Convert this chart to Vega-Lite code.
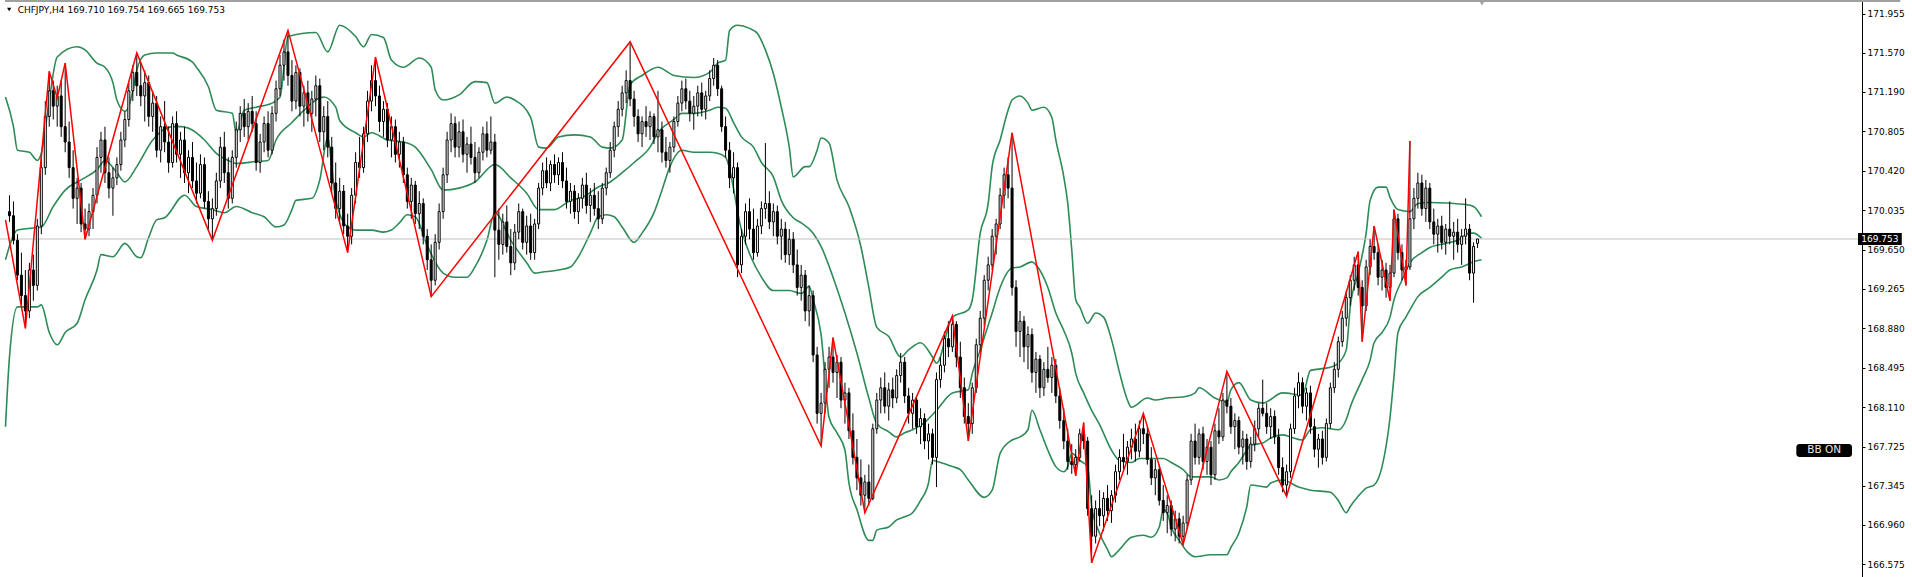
{
"$schema":"https://vega.github.io/schema/vega-lite/v6.json",
"width":1862,"height":577,
"autosize":{"type":"none"},
"padding":{"left":0,"top":0,"right":50,"bottom":0},
"background":"white",
"config":{"view":{"stroke":null},"font":"DejaVu Sans","axis":{"grid":false}},
"datasets":{
"one":[{"k":1}],
"bars":[
{"i":1,"o":170.02,"h":170.18,"l":169.92,"c":169.98},
{"i":2,"o":169.98,"h":170.12,"l":169.70,"c":169.74},
{"i":3,"o":169.74,"h":169.80,"l":169.35,"c":169.40},
{"i":4,"o":169.40,"h":169.62,"l":169.10,"c":169.20},
{"i":5,"o":169.20,"h":169.45,"l":168.88,"c":169.05},
{"i":6,"o":169.05,"h":169.52,"l":168.98,"c":169.45},
{"i":7,"o":169.45,"h":169.60,"l":169.15,"c":169.30},
{"i":8,"o":169.30,"h":169.95,"l":169.25,"c":169.88},
{"i":9,"o":169.88,"h":170.55,"l":169.80,"c":170.45},
{"i":10,"o":170.45,"h":171.10,"l":170.38,"c":170.95},
{"i":11,"o":170.95,"h":171.39,"l":170.85,"c":171.20},
{"i":12,"o":171.20,"h":171.30,"l":170.92,"c":171.05},
{"i":13,"o":171.05,"h":171.25,"l":170.85,"c":171.15},
{"i":14,"o":171.15,"h":171.30,"l":170.75,"c":170.85},
{"i":15,"o":170.85,"h":171.47,"l":170.60,"c":170.70},
{"i":16,"o":170.70,"h":170.90,"l":170.35,"c":170.45},
{"i":17,"o":170.45,"h":170.62,"l":170.05,"c":170.15},
{"i":18,"o":170.15,"h":170.35,"l":169.90,"c":170.25},
{"i":19,"o":170.25,"h":170.30,"l":169.82,"c":169.90},
{"i":20,"o":169.90,"h":170.05,"l":169.75,"c":169.85},
{"i":21,"o":169.85,"h":170.10,"l":169.78,"c":170.02},
{"i":22,"o":170.02,"h":170.25,"l":169.85,"c":170.18},
{"i":23,"o":170.18,"h":170.65,"l":170.10,"c":170.55},
{"i":24,"o":170.55,"h":170.80,"l":170.40,"c":170.72},
{"i":25,"o":170.72,"h":170.85,"l":170.30,"c":170.40},
{"i":26,"o":170.40,"h":170.55,"l":170.15,"c":170.25},
{"i":27,"o":170.25,"h":170.45,"l":169.98,"c":170.35},
{"i":28,"o":170.35,"h":170.55,"l":170.28,"c":170.48},
{"i":29,"o":170.48,"h":170.80,"l":170.42,"c":170.72},
{"i":30,"o":170.72,"h":171.00,"l":170.65,"c":170.92},
{"i":31,"o":170.92,"h":171.28,"l":170.85,"c":171.20},
{"i":32,"o":171.20,"h":171.45,"l":171.10,"c":171.38},
{"i":33,"o":171.38,"h":171.57,"l":171.15,"c":171.25},
{"i":34,"o":171.25,"h":171.48,"l":171.05,"c":171.15},
{"i":35,"o":171.15,"h":171.40,"l":170.90,"c":171.28},
{"i":36,"o":171.28,"h":171.35,"l":170.85,"c":170.95},
{"i":37,"o":170.95,"h":171.20,"l":170.80,"c":171.08},
{"i":38,"o":171.08,"h":171.15,"l":170.55,"c":170.62},
{"i":39,"o":170.62,"h":170.95,"l":170.50,"c":170.85},
{"i":40,"o":170.85,"h":171.10,"l":170.60,"c":170.70},
{"i":41,"o":170.70,"h":170.85,"l":170.40,"c":170.50},
{"i":42,"o":170.50,"h":170.95,"l":170.45,"c":170.88},
{"i":43,"o":170.88,"h":171.00,"l":170.50,"c":170.58},
{"i":44,"o":170.58,"h":170.80,"l":170.35,"c":170.72},
{"i":45,"o":170.72,"h":170.85,"l":170.30,"c":170.40},
{"i":46,"o":170.40,"h":170.62,"l":170.20,"c":170.55},
{"i":47,"o":170.55,"h":170.70,"l":170.25,"c":170.32},
{"i":48,"o":170.32,"h":170.50,"l":170.10,"c":170.20},
{"i":49,"o":170.20,"h":170.58,"l":170.15,"c":170.48},
{"i":50,"o":170.48,"h":170.55,"l":170.05,"c":170.12},
{"i":51,"o":170.12,"h":170.22,"l":169.85,"c":169.95},
{"i":52,"o":169.95,"h":170.15,"l":169.74,"c":170.05},
{"i":53,"o":170.05,"h":170.40,"l":169.98,"c":170.32},
{"i":54,"o":170.32,"h":170.75,"l":170.25,"c":170.65},
{"i":55,"o":170.65,"h":170.80,"l":170.30,"c":170.40},
{"i":56,"o":170.40,"h":170.55,"l":170.05,"c":170.15},
{"i":57,"o":170.15,"h":170.62,"l":170.10,"c":170.55},
{"i":58,"o":170.55,"h":170.90,"l":170.45,"c":170.82},
{"i":59,"o":170.82,"h":171.05,"l":170.70,"c":170.98},
{"i":60,"o":170.98,"h":171.12,"l":170.75,"c":170.85},
{"i":61,"o":170.85,"h":171.08,"l":170.72,"c":171.00},
{"i":62,"o":171.00,"h":171.15,"l":170.80,"c":170.88},
{"i":63,"o":170.88,"h":171.00,"l":170.42,"c":170.50},
{"i":64,"o":170.50,"h":170.78,"l":170.40,"c":170.70},
{"i":65,"o":170.70,"h":170.95,"l":170.60,"c":170.88},
{"i":66,"o":170.88,"h":171.00,"l":170.55,"c":170.62},
{"i":67,"o":170.62,"h":171.05,"l":170.58,"c":170.98},
{"i":68,"o":170.98,"h":171.30,"l":170.90,"c":171.22},
{"i":69,"o":171.22,"h":171.55,"l":171.15,"c":171.45},
{"i":70,"o":171.45,"h":171.70,"l":171.30,"c":171.58},
{"i":71,"o":171.58,"h":171.79,"l":171.25,"c":171.35},
{"i":72,"o":171.35,"h":171.50,"l":171.00,"c":171.10},
{"i":73,"o":171.10,"h":171.45,"l":171.02,"c":171.38},
{"i":74,"o":171.38,"h":171.42,"l":170.95,"c":171.05},
{"i":75,"o":171.05,"h":171.25,"l":170.85,"c":171.18},
{"i":76,"o":171.18,"h":171.30,"l":170.90,"c":170.98},
{"i":77,"o":170.98,"h":171.20,"l":170.80,"c":171.12},
{"i":78,"o":171.12,"h":171.35,"l":170.95,"c":171.25},
{"i":79,"o":171.25,"h":171.32,"l":170.70,"c":170.80},
{"i":80,"o":170.80,"h":171.05,"l":170.62,"c":170.95},
{"i":81,"o":170.95,"h":171.10,"l":170.55,"c":170.65},
{"i":82,"o":170.65,"h":170.75,"l":170.20,"c":170.30},
{"i":83,"o":170.30,"h":170.50,"l":169.95,"c":170.05},
{"i":84,"o":170.05,"h":170.35,"l":169.90,"c":170.22},
{"i":85,"o":170.22,"h":170.28,"l":169.80,"c":169.88},
{"i":86,"o":169.88,"h":170.00,"l":169.62,"c":169.78},
{"i":87,"o":169.78,"h":170.25,"l":169.70,"c":170.18},
{"i":88,"o":170.18,"h":170.60,"l":170.10,"c":170.50},
{"i":89,"o":170.50,"h":170.75,"l":170.35,"c":170.45},
{"i":90,"o":170.45,"h":170.85,"l":170.40,"c":170.78},
{"i":91,"o":170.78,"h":171.20,"l":170.70,"c":171.10},
{"i":92,"o":171.10,"h":171.45,"l":171.00,"c":171.30},
{"i":93,"o":171.30,"h":171.53,"l":171.05,"c":171.15},
{"i":94,"o":171.15,"h":171.25,"l":170.80,"c":170.90},
{"i":95,"o":170.90,"h":171.10,"l":170.75,"c":171.02},
{"i":96,"o":171.02,"h":171.08,"l":170.65,"c":170.72},
{"i":97,"o":170.72,"h":170.95,"l":170.55,"c":170.85},
{"i":98,"o":170.85,"h":170.92,"l":170.50,"c":170.58},
{"i":99,"o":170.58,"h":170.80,"l":170.45,"c":170.70},
{"i":100,"o":170.70,"h":170.75,"l":170.30,"c":170.38},
{"i":101,"o":170.38,"h":170.45,"l":170.05,"c":170.12},
{"i":102,"o":170.12,"h":170.35,"l":169.95,"c":170.28},
{"i":103,"o":170.28,"h":170.32,"l":169.90,"c":170.00},
{"i":104,"o":170.00,"h":170.22,"l":169.85,"c":170.10},
{"i":105,"o":170.10,"h":170.15,"l":169.70,"c":169.78},
{"i":106,"o":169.78,"h":169.85,"l":169.45,"c":169.55},
{"i":107,"o":169.55,"h":169.70,"l":169.19,"c":169.35},
{"i":108,"o":169.35,"h":169.80,"l":169.30,"c":169.72},
{"i":109,"o":169.72,"h":170.10,"l":169.65,"c":170.02},
{"i":110,"o":170.02,"h":170.45,"l":169.95,"c":170.38},
{"i":111,"o":170.38,"h":170.80,"l":170.30,"c":170.72},
{"i":112,"o":170.72,"h":170.98,"l":170.60,"c":170.88},
{"i":113,"o":170.88,"h":170.95,"l":170.55,"c":170.65},
{"i":114,"o":170.65,"h":170.90,"l":170.55,"c":170.80},
{"i":115,"o":170.80,"h":170.92,"l":170.50,"c":170.58},
{"i":116,"o":170.58,"h":170.75,"l":170.40,"c":170.68},
{"i":117,"o":170.68,"h":170.85,"l":170.48,"c":170.55},
{"i":118,"o":170.55,"h":170.70,"l":170.30,"c":170.40},
{"i":119,"o":170.40,"h":170.65,"l":170.35,"c":170.60},
{"i":120,"o":170.60,"h":170.85,"l":170.52,"c":170.78},
{"i":121,"o":170.78,"h":170.90,"l":170.55,"c":170.62},
{"i":122,"o":170.62,"h":170.95,"l":170.58,"c":170.70},
{"i":123,"o":170.70,"h":170.78,"l":169.38,"c":169.84},
{"i":124,"o":169.84,"h":170.05,"l":169.55,"c":169.70},
{"i":125,"o":169.70,"h":170.00,"l":169.60,"c":169.92},
{"i":126,"o":169.92,"h":170.08,"l":169.62,"c":169.68},
{"i":127,"o":169.68,"h":169.85,"l":169.40,"c":169.52},
{"i":128,"o":169.52,"h":169.90,"l":169.45,"c":169.82},
{"i":129,"o":169.82,"h":170.10,"l":169.75,"c":170.02},
{"i":130,"o":170.02,"h":170.05,"l":169.65,"c":169.72},
{"i":131,"o":169.72,"h":169.98,"l":169.60,"c":169.88},
{"i":132,"o":169.88,"h":170.00,"l":169.55,"c":169.62},
{"i":133,"o":169.62,"h":169.95,"l":169.55,"c":169.90},
{"i":134,"o":169.90,"h":170.30,"l":169.85,"c":170.25},
{"i":135,"o":170.25,"h":170.50,"l":170.18,"c":170.42},
{"i":136,"o":170.42,"h":170.55,"l":170.25,"c":170.30},
{"i":137,"o":170.30,"h":170.52,"l":170.22,"c":170.48},
{"i":138,"o":170.48,"h":170.58,"l":170.30,"c":170.38},
{"i":139,"o":170.38,"h":170.55,"l":170.28,"c":170.50},
{"i":140,"o":170.50,"h":170.60,"l":170.25,"c":170.32},
{"i":141,"o":170.32,"h":170.45,"l":170.05,"c":170.12},
{"i":142,"o":170.12,"h":170.30,"l":170.00,"c":170.22},
{"i":143,"o":170.22,"h":170.28,"l":169.95,"c":170.02},
{"i":144,"o":170.02,"h":170.20,"l":169.90,"c":170.15},
{"i":145,"o":170.15,"h":170.35,"l":170.05,"c":170.28},
{"i":146,"o":170.28,"h":170.40,"l":170.00,"c":170.08},
{"i":147,"o":170.08,"h":170.25,"l":169.92,"c":170.18},
{"i":148,"o":170.18,"h":170.30,"l":169.98,"c":170.05},
{"i":149,"o":170.05,"h":170.22,"l":169.85,"c":169.95},
{"i":150,"o":169.95,"h":170.30,"l":169.90,"c":170.25},
{"i":151,"o":170.25,"h":170.45,"l":170.18,"c":170.40},
{"i":152,"o":170.40,"h":170.70,"l":170.35,"c":170.62},
{"i":153,"o":170.62,"h":170.90,"l":170.55,"c":170.85},
{"i":154,"o":170.85,"h":171.10,"l":170.75,"c":171.02},
{"i":155,"o":171.02,"h":171.25,"l":170.95,"c":171.18},
{"i":156,"o":171.18,"h":171.40,"l":171.08,"c":171.30},
{"i":157,"o":171.30,"h":171.68,"l":171.05,"c":171.12},
{"i":158,"o":171.12,"h":171.20,"l":170.85,"c":170.95},
{"i":159,"o":170.95,"h":171.02,"l":170.70,"c":170.78},
{"i":160,"o":170.78,"h":170.95,"l":170.65,"c":170.90},
{"i":161,"o":170.90,"h":171.05,"l":170.75,"c":170.85},
{"i":162,"o":170.85,"h":171.00,"l":170.72,"c":170.95},
{"i":163,"o":170.95,"h":170.98,"l":170.68,"c":170.75},
{"i":164,"o":170.75,"h":171.20,"l":170.60,"c":170.82},
{"i":165,"o":170.82,"h":170.90,"l":170.50,"c":170.60},
{"i":166,"o":170.60,"h":170.75,"l":170.45,"c":170.52},
{"i":167,"o":170.52,"h":170.70,"l":170.40,"c":170.65},
{"i":168,"o":170.65,"h":170.95,"l":170.60,"c":170.90},
{"i":169,"o":170.90,"h":171.15,"l":170.85,"c":171.08},
{"i":170,"o":171.08,"h":171.30,"l":171.00,"c":171.22},
{"i":171,"o":171.22,"h":171.32,"l":171.02,"c":171.10},
{"i":172,"o":171.10,"h":171.20,"l":170.90,"c":170.98},
{"i":173,"o":170.98,"h":171.15,"l":170.82,"c":171.05},
{"i":174,"o":171.05,"h":171.25,"l":170.95,"c":171.18},
{"i":175,"o":171.18,"h":171.28,"l":170.95,"c":171.02},
{"i":176,"o":171.02,"h":171.20,"l":170.92,"c":171.15},
{"i":177,"o":171.15,"h":171.40,"l":171.10,"c":171.32},
{"i":178,"o":171.32,"h":171.52,"l":171.25,"c":171.45},
{"i":179,"o":171.45,"h":171.50,"l":171.15,"c":171.22},
{"i":180,"o":171.22,"h":171.25,"l":170.80,"c":170.85},
{"i":181,"o":170.85,"h":170.95,"l":170.55,"c":170.62},
{"i":182,"o":170.62,"h":170.70,"l":170.25,"c":170.35},
{"i":183,"o":170.35,"h":170.60,"l":170.20,"c":170.45},
{"i":184,"o":170.45,"h":170.50,"l":169.38,"c":169.50},
{"i":185,"o":169.50,"h":169.85,"l":169.42,"c":169.78},
{"i":186,"o":169.78,"h":170.10,"l":169.70,"c":170.02},
{"i":187,"o":170.02,"h":170.15,"l":169.75,"c":169.85},
{"i":188,"o":169.85,"h":170.05,"l":169.55,"c":169.62},
{"i":189,"o":169.62,"h":169.95,"l":169.58,"c":169.88},
{"i":190,"o":169.88,"h":170.12,"l":169.80,"c":170.05},
{"i":191,"o":170.05,"h":170.69,"l":169.95,"c":170.10},
{"i":192,"o":170.10,"h":170.22,"l":169.85,"c":169.92},
{"i":193,"o":169.92,"h":170.10,"l":169.78,"c":170.02},
{"i":194,"o":170.02,"h":170.08,"l":169.70,"c":169.78},
{"i":195,"o":169.78,"h":169.95,"l":169.55,"c":169.85},
{"i":196,"o":169.85,"h":169.92,"l":169.52,"c":169.60},
{"i":197,"o":169.60,"h":169.85,"l":169.50,"c":169.75},
{"i":198,"o":169.75,"h":169.82,"l":169.42,"c":169.50},
{"i":199,"o":169.50,"h":169.65,"l":169.20,"c":169.28},
{"i":200,"o":169.28,"h":169.50,"l":169.15,"c":169.40},
{"i":201,"o":169.40,"h":169.45,"l":168.95,"c":169.05},
{"i":202,"o":169.05,"h":169.30,"l":168.90,"c":169.20},
{"i":203,"o":169.20,"h":169.25,"l":168.55,"c":168.62},
{"i":204,"o":168.62,"h":168.70,"l":167.95,"c":168.05},
{"i":205,"o":168.05,"h":168.25,"l":167.73,"c":168.15},
{"i":206,"o":168.15,"h":168.55,"l":168.05,"c":168.48},
{"i":207,"o":168.48,"h":168.70,"l":168.30,"c":168.60},
{"i":208,"o":168.60,"h":168.79,"l":168.35,"c":168.45},
{"i":209,"o":168.45,"h":168.62,"l":168.20,"c":168.55},
{"i":210,"o":168.55,"h":168.60,"l":168.10,"c":168.18},
{"i":211,"o":168.18,"h":168.35,"l":167.95,"c":168.25},
{"i":212,"o":168.25,"h":168.30,"l":167.80,"c":167.88},
{"i":213,"o":167.88,"h":168.05,"l":167.55,"c":167.62},
{"i":214,"o":167.62,"h":167.80,"l":167.30,"c":167.42},
{"i":215,"o":167.42,"h":167.60,"l":167.15,"c":167.25},
{"i":216,"o":167.25,"h":167.45,"l":167.08,"c":167.38},
{"i":217,"o":167.38,"h":167.55,"l":167.15,"c":167.22},
{"i":218,"o":167.22,"h":167.95,"l":167.20,"c":167.90},
{"i":219,"o":167.90,"h":168.25,"l":167.85,"c":168.18},
{"i":220,"o":168.18,"h":168.40,"l":168.05,"c":168.30},
{"i":221,"o":168.30,"h":168.45,"l":168.05,"c":168.12},
{"i":222,"o":168.12,"h":168.35,"l":167.98,"c":168.28},
{"i":223,"o":168.28,"h":168.40,"l":168.10,"c":168.20},
{"i":224,"o":168.20,"h":168.48,"l":168.15,"c":168.42},
{"i":225,"o":168.42,"h":168.64,"l":168.35,"c":168.55},
{"i":226,"o":168.55,"h":168.60,"l":168.15,"c":168.22},
{"i":227,"o":168.22,"h":168.30,"l":167.95,"c":168.05},
{"i":228,"o":168.05,"h":168.25,"l":167.90,"c":168.18},
{"i":229,"o":168.18,"h":168.22,"l":167.85,"c":167.92},
{"i":230,"o":167.92,"h":168.10,"l":167.75,"c":168.00},
{"i":231,"o":168.00,"h":168.05,"l":167.70,"c":167.78},
{"i":232,"o":167.78,"h":167.95,"l":167.60,"c":167.85},
{"i":233,"o":167.85,"h":167.90,"l":167.55,"c":167.62},
{"i":234,"o":167.62,"h":168.45,"l":167.33,"c":168.38},
{"i":235,"o":168.38,"h":168.60,"l":168.30,"c":168.52},
{"i":236,"o":168.52,"h":168.85,"l":168.45,"c":168.78},
{"i":237,"o":168.78,"h":168.95,"l":168.60,"c":168.70},
{"i":238,"o":168.70,"h":169.00,"l":168.65,"c":168.92},
{"i":239,"o":168.92,"h":168.95,"l":168.50,"c":168.60},
{"i":240,"o":168.60,"h":168.75,"l":168.20,"c":168.30},
{"i":241,"o":168.30,"h":168.40,"l":167.95,"c":168.02},
{"i":242,"o":168.02,"h":168.15,"l":167.78,"c":167.95},
{"i":243,"o":167.95,"h":168.35,"l":167.85,"c":168.30},
{"i":244,"o":168.30,"h":168.78,"l":168.25,"c":168.72},
{"i":245,"o":168.72,"h":169.05,"l":168.65,"c":168.98},
{"i":246,"o":168.98,"h":169.40,"l":168.90,"c":169.35},
{"i":247,"o":169.35,"h":169.58,"l":169.25,"c":169.50},
{"i":248,"o":169.50,"h":169.85,"l":169.45,"c":169.78},
{"i":249,"o":169.78,"h":169.95,"l":169.60,"c":169.90},
{"i":250,"o":169.90,"h":170.25,"l":169.85,"c":170.18},
{"i":251,"o":170.18,"h":170.45,"l":170.05,"c":170.38},
{"i":252,"o":170.38,"h":170.55,"l":170.15,"c":170.25},
{"i":253,"o":170.25,"h":170.79,"l":169.20,"c":169.28},
{"i":254,"o":169.28,"h":169.35,"l":168.70,"c":168.85},
{"i":255,"o":168.85,"h":169.05,"l":168.60,"c":168.95},
{"i":256,"o":168.95,"h":169.00,"l":168.55,"c":168.70},
{"i":257,"o":168.70,"h":168.90,"l":168.48,"c":168.82},
{"i":258,"o":168.82,"h":168.88,"l":168.35,"c":168.45},
{"i":259,"o":168.45,"h":168.65,"l":168.25,"c":168.58},
{"i":260,"o":168.58,"h":168.62,"l":168.20,"c":168.30},
{"i":261,"o":168.30,"h":168.55,"l":168.22,"c":168.48},
{"i":262,"o":168.48,"h":168.70,"l":168.35,"c":168.40},
{"i":263,"o":168.40,"h":168.60,"l":168.25,"c":168.52},
{"i":264,"o":168.52,"h":168.58,"l":168.15,"c":168.22},
{"i":265,"o":168.22,"h":168.30,"l":167.90,"c":167.98},
{"i":266,"o":167.98,"h":168.10,"l":167.70,"c":167.78},
{"i":267,"o":167.78,"h":167.90,"l":167.50,"c":167.58},
{"i":268,"o":167.58,"h":167.75,"l":167.46,"c":167.55},
{"i":269,"o":167.55,"h":167.70,"l":167.44,"c":167.62},
{"i":270,"o":167.62,"h":167.90,"l":167.58,"c":167.85},
{"i":271,"o":167.85,"h":167.96,"l":167.70,"c":167.78},
{"i":272,"o":167.78,"h":167.82,"l":167.05,"c":167.12},
{"i":273,"o":167.12,"h":167.25,"l":166.59,"c":166.85},
{"i":274,"o":166.85,"h":167.20,"l":166.78,"c":167.12},
{"i":275,"o":167.12,"h":167.30,"l":166.95,"c":167.05},
{"i":276,"o":167.05,"h":167.28,"l":166.90,"c":167.22},
{"i":277,"o":167.22,"h":167.35,"l":167.00,"c":167.10},
{"i":278,"o":167.10,"h":167.30,"l":166.98,"c":167.25},
{"i":279,"o":167.25,"h":167.55,"l":167.18,"c":167.48},
{"i":280,"o":167.48,"h":167.70,"l":167.40,"c":167.62},
{"i":281,"o":167.62,"h":167.85,"l":167.50,"c":167.58},
{"i":282,"o":167.58,"h":167.78,"l":167.45,"c":167.72},
{"i":283,"o":167.72,"h":167.90,"l":167.60,"c":167.80},
{"i":284,"o":167.80,"h":167.95,"l":167.58,"c":167.68},
{"i":285,"o":167.68,"h":167.98,"l":167.62,"c":167.90},
{"i":286,"o":167.90,"h":168.05,"l":167.75,"c":167.85},
{"i":287,"o":167.85,"h":167.92,"l":167.55,"c":167.60},
{"i":288,"o":167.60,"h":167.72,"l":167.35,"c":167.42},
{"i":289,"o":167.42,"h":167.60,"l":167.25,"c":167.50},
{"i":290,"o":167.50,"h":167.55,"l":167.15,"c":167.20},
{"i":291,"o":167.20,"h":167.35,"l":167.00,"c":167.08},
{"i":292,"o":167.08,"h":167.25,"l":166.88,"c":167.15},
{"i":293,"o":167.15,"h":167.20,"l":166.85,"c":166.92},
{"i":294,"o":166.92,"h":167.10,"l":166.80,"c":167.02},
{"i":295,"o":167.02,"h":167.08,"l":166.78,"c":166.85},
{"i":296,"o":166.85,"h":167.05,"l":166.77,"c":166.98},
{"i":297,"o":166.98,"h":167.45,"l":166.92,"c":167.40},
{"i":298,"o":167.40,"h":167.85,"l":167.35,"c":167.78},
{"i":299,"o":167.78,"h":167.95,"l":167.55,"c":167.62},
{"i":300,"o":167.62,"h":167.90,"l":167.55,"c":167.85},
{"i":301,"o":167.85,"h":167.92,"l":167.50,"c":167.58},
{"i":302,"o":167.58,"h":167.80,"l":167.45,"c":167.72},
{"i":303,"o":167.72,"h":167.78,"l":167.35,"c":167.45},
{"i":304,"o":167.45,"h":167.95,"l":167.40,"c":167.88},
{"i":305,"o":167.88,"h":168.10,"l":167.75,"c":167.82},
{"i":306,"o":167.82,"h":168.25,"l":167.78,"c":168.18},
{"i":307,"o":168.18,"h":168.46,"l":168.05,"c":168.12},
{"i":308,"o":168.12,"h":168.20,"l":167.85,"c":167.92},
{"i":309,"o":167.92,"h":168.05,"l":167.70,"c":167.98},
{"i":310,"o":167.98,"h":168.02,"l":167.65,"c":167.72},
{"i":311,"o":167.72,"h":167.88,"l":167.55,"c":167.80},
{"i":312,"o":167.80,"h":167.85,"l":167.50,"c":167.58},
{"i":313,"o":167.58,"h":167.82,"l":167.52,"c":167.75},
{"i":314,"o":167.75,"h":167.98,"l":167.68,"c":167.90},
{"i":315,"o":167.90,"h":168.15,"l":167.82,"c":168.10},
{"i":316,"o":168.10,"h":168.38,"l":168.02,"c":168.05},
{"i":317,"o":168.05,"h":168.15,"l":167.85,"c":167.92},
{"i":318,"o":167.92,"h":168.10,"l":167.80,"c":168.02},
{"i":319,"o":168.02,"h":168.08,"l":167.75,"c":167.82},
{"i":320,"o":167.82,"h":167.90,"l":167.45,"c":167.52},
{"i":321,"o":167.52,"h":167.62,"l":167.28,"c":167.35},
{"i":322,"o":167.35,"h":167.55,"l":167.24,"c":167.48},
{"i":323,"o":167.48,"h":167.95,"l":167.42,"c":167.90},
{"i":324,"o":167.90,"h":168.30,"l":167.85,"c":168.22},
{"i":325,"o":168.22,"h":168.45,"l":168.10,"c":168.35},
{"i":326,"o":168.35,"h":168.40,"l":168.05,"c":168.12},
{"i":327,"o":168.12,"h":168.30,"l":167.98,"c":168.25},
{"i":328,"o":168.25,"h":168.32,"l":167.85,"c":167.92},
{"i":329,"o":167.92,"h":168.00,"l":167.62,"c":167.70},
{"i":330,"o":167.70,"h":167.85,"l":167.52,"c":167.80},
{"i":331,"o":167.80,"h":167.88,"l":167.55,"c":167.62},
{"i":332,"o":167.62,"h":168.00,"l":167.58,"c":167.95},
{"i":333,"o":167.95,"h":168.35,"l":167.90,"c":168.30},
{"i":334,"o":168.30,"h":168.55,"l":168.25,"c":168.48},
{"i":335,"o":168.48,"h":168.80,"l":168.40,"c":168.75},
{"i":336,"o":168.75,"h":169.05,"l":168.70,"c":168.98},
{"i":337,"o":168.98,"h":169.25,"l":168.90,"c":169.18},
{"i":338,"o":169.18,"h":169.40,"l":169.10,"c":169.35},
{"i":339,"o":169.35,"h":169.58,"l":169.25,"c":169.50},
{"i":340,"o":169.50,"h":169.63,"l":169.20,"c":169.28},
{"i":341,"o":169.28,"h":169.35,"l":168.75,"c":169.10},
{"i":342,"o":169.10,"h":169.55,"l":169.05,"c":169.48},
{"i":343,"o":169.48,"h":169.75,"l":169.40,"c":169.68},
{"i":344,"o":169.68,"h":169.88,"l":169.55,"c":169.62},
{"i":345,"o":169.62,"h":169.70,"l":169.30,"c":169.38},
{"i":346,"o":169.38,"h":169.55,"l":169.25,"c":169.45},
{"i":347,"o":169.45,"h":169.52,"l":169.18,"c":169.28},
{"i":348,"o":169.28,"h":169.50,"l":169.15,"c":169.42},
{"i":349,"o":169.42,"h":170.04,"l":169.38,"c":169.95},
{"i":350,"o":169.95,"h":170.00,"l":169.55,"c":169.62},
{"i":351,"o":169.62,"h":169.70,"l":169.35,"c":169.45},
{"i":352,"o":169.45,"h":169.55,"l":169.30,"c":169.48},
{"i":353,"o":169.48,"h":170.71,"l":169.45,"c":169.95},
{"i":354,"o":169.95,"h":170.25,"l":169.85,"c":170.15},
{"i":355,"o":170.15,"h":170.40,"l":170.05,"c":170.30},
{"i":356,"o":170.30,"h":170.38,"l":169.98,"c":170.05},
{"i":357,"o":170.05,"h":170.33,"l":169.92,"c":170.25},
{"i":358,"o":170.25,"h":170.30,"l":169.85,"c":169.92},
{"i":359,"o":169.92,"h":170.05,"l":169.70,"c":169.80},
{"i":360,"o":169.80,"h":169.95,"l":169.62,"c":169.88},
{"i":361,"o":169.88,"h":169.98,"l":169.65,"c":169.72},
{"i":362,"o":169.72,"h":169.90,"l":169.60,"c":169.85},
{"i":363,"o":169.85,"h":170.12,"l":169.70,"c":169.78},
{"i":364,"o":169.78,"h":169.92,"l":169.55,"c":169.82},
{"i":365,"o":169.82,"h":169.95,"l":169.62,"c":169.70},
{"i":366,"o":169.70,"h":169.85,"l":169.50,"c":169.78},
{"i":367,"o":169.78,"h":170.15,"l":169.70,"c":169.85},
{"i":368,"o":169.85,"h":169.90,"l":169.35,"c":169.42},
{"i":369,"o":169.42,"h":169.72,"l":169.13,"c":169.68},
{"i":370,"o":169.71,"h":169.754,"l":169.665,"c":169.753}
],
"bands":[
{"b":"u","i":0,"p":171.14},{"b":"u","i":2,"p":170.85},{"b":"u","i":3,"p":170.62},{"b":"u","i":6,"p":170.60},{"b":"u","i":8,"p":170.52},{"b":"u","i":9,"p":170.59},{"b":"u","i":11,"p":171.11},{"b":"u","i":13,"p":171.53},{"b":"u","i":18,"p":171.63},{"b":"u","i":20,"p":171.60},{"b":"u","i":23,"p":171.47},{"b":"u","i":25,"p":171.43},{"b":"u","i":27,"p":171.28},{"b":"u","i":28,"p":171.11},{"b":"u","i":30,"p":171.00},{"b":"u","i":31,"p":171.05},{"b":"u","i":32,"p":171.20},{"b":"u","i":33,"p":171.40},{"b":"u","i":35,"p":171.55},{"b":"u","i":38,"p":171.57},{"b":"u","i":42,"p":171.57},{"b":"u","i":43,"p":171.55},{"b":"u","i":47,"p":171.48},{"b":"u","i":48,"p":171.43},{"b":"u","i":51,"p":171.24},{"b":"u","i":53,"p":171.01},{"b":"u","i":57,"p":170.98},{"b":"u","i":58,"p":170.79},{"b":"u","i":60,"p":171.01},{"b":"u","i":63,"p":171.04},{"b":"u","i":67,"p":171.08},{"b":"u","i":69,"p":171.14},{"b":"u","i":71,"p":171.73},{"b":"u","i":78,"p":171.77},{"b":"u","i":81,"p":171.58},{"b":"u","i":84,"p":171.84},{"b":"u","i":88,"p":171.73},{"b":"u","i":90,"p":171.63},{"b":"u","i":92,"p":171.75},{"b":"u","i":95,"p":171.72},{"b":"u","i":97,"p":171.50},{"b":"u","i":100,"p":171.43},{"b":"u","i":104,"p":171.52},{"b":"u","i":107,"p":171.43},{"b":"u","i":108,"p":171.21},{"b":"u","i":110,"p":171.11},{"b":"u","i":114,"p":171.16},{"b":"u","i":118,"p":171.29},{"b":"u","i":121,"p":171.28},{"b":"u","i":123,"p":171.08},{"b":"u","i":126,"p":171.14},{"b":"u","i":128,"p":171.11},{"b":"u","i":132,"p":170.94},{"b":"u","i":134,"p":170.65},{"b":"u","i":136,"p":170.64},{"b":"u","i":139,"p":170.75},{"b":"u","i":143,"p":170.77},{"b":"u","i":147,"p":170.75},{"b":"u","i":150,"p":170.65},{"b":"u","i":152,"p":170.64},{"b":"u","i":155,"p":170.72},{"b":"u","i":157,"p":171.26},{"b":"u","i":160,"p":171.35},{"b":"u","i":164,"p":171.43},{"b":"u","i":168,"p":171.35},{"b":"u","i":173,"p":171.33},{"b":"u","i":177,"p":171.38},{"b":"u","i":179,"p":171.47},{"b":"u","i":181,"p":171.50},{"b":"u","i":182,"p":171.79},{"b":"u","i":184,"p":171.84},{"b":"u","i":187,"p":171.81},{"b":"u","i":189,"p":171.76},{"b":"u","i":191,"p":171.60},{"b":"u","i":193,"p":171.37},{"b":"u","i":195,"p":171.04},{"b":"u","i":197,"p":170.65},{"b":"u","i":198,"p":170.36},{"b":"u","i":201,"p":170.46},{"b":"u","i":202,"p":170.46},{"b":"u","i":204,"p":170.62},{"b":"u","i":205,"p":170.74},{"b":"u","i":207,"p":170.69},{"b":"u","i":209,"p":170.33},{"b":"u","i":212,"p":170.07},{"b":"u","i":215,"p":169.68},{"b":"u","i":217,"p":169.28},{"b":"u","i":219,"p":168.89},{"b":"u","i":222,"p":168.80},{"b":"u","i":225,"p":168.60},{"b":"u","i":227,"p":168.67},{"b":"u","i":230,"p":168.74},{"b":"u","i":233,"p":168.60},{"b":"u","i":234,"p":168.54},{"b":"u","i":238,"p":168.99},{"b":"u","i":242,"p":169.06},{"b":"u","i":243,"p":169.16},{"b":"u","i":245,"p":169.81},{"b":"u","i":247,"p":170.10},{"b":"u","i":248,"p":170.46},{"b":"u","i":250,"p":170.72},{"b":"u","i":252,"p":171.01},{"b":"u","i":253,"p":171.11},{"b":"u","i":255,"p":171.15},{"b":"u","i":257,"p":171.08},{"b":"u","i":258,"p":171.01},{"b":"u","i":261,"p":171.04},{"b":"u","i":263,"p":170.94},{"b":"u","i":264,"p":170.72},{"b":"u","i":266,"p":170.36},{"b":"u","i":267,"p":170.10},{"b":"u","i":268,"p":169.65},{"b":"u","i":269,"p":169.16},{"b":"u","i":270,"p":169.09},{"b":"u","i":272,"p":168.93},{"b":"u","i":274,"p":169.03},{"b":"u","i":276,"p":168.99},{"b":"u","i":278,"p":168.77},{"b":"u","i":280,"p":168.45},{"b":"u","i":282,"p":168.18},{"b":"u","i":283,"p":168.11},{"b":"u","i":287,"p":168.20},{"b":"u","i":289,"p":168.18},{"b":"u","i":292,"p":168.20},{"b":"u","i":296,"p":168.21},{"b":"u","i":299,"p":168.25},{"b":"u","i":300,"p":168.30},{"b":"u","i":304,"p":168.20},{"b":"u","i":307,"p":168.16},{"b":"u","i":308,"p":168.28},{"b":"u","i":310,"p":168.35},{"b":"u","i":313,"p":168.18},{"b":"u","i":316,"p":168.15},{"b":"u","i":321,"p":168.25},{"b":"u","i":326,"p":168.23},{"b":"u","i":328,"p":168.47},{"b":"u","i":333,"p":168.50},{"b":"u","i":335,"p":168.54},{"b":"u","i":337,"p":168.67},{"b":"u","i":338,"p":169.09},{"b":"u","i":340,"p":169.42},{"b":"u","i":342,"p":169.81},{"b":"u","i":343,"p":170.13},{"b":"u","i":345,"p":170.26},{"b":"u","i":347,"p":170.26},{"b":"u","i":348,"p":170.16},{"b":"u","i":350,"p":170.04},{"b":"u","i":353,"p":170.02},{"b":"u","i":355,"p":170.10},{"b":"u","i":358,"p":170.11},{"b":"u","i":367,"p":170.09},{"b":"u","i":369,"p":170.07},{"b":"u","i":371,"p":169.97},
{"b":"m","i":0,"p":169.55},{"b":"m","i":3,"p":169.84},{"b":"m","i":7,"p":169.86},{"b":"m","i":9,"p":169.87},{"b":"m","i":12,"p":170.07},{"b":"m","i":15,"p":170.23},{"b":"m","i":19,"p":170.33},{"b":"m","i":23,"p":170.43},{"b":"m","i":25,"p":170.52},{"b":"m","i":28,"p":170.40},{"b":"m","i":30,"p":170.31},{"b":"m","i":33,"p":170.46},{"b":"m","i":37,"p":170.72},{"b":"m","i":42,"p":170.85},{"b":"m","i":44,"p":170.85},{"b":"m","i":48,"p":170.79},{"b":"m","i":50,"p":170.72},{"b":"m","i":53,"p":170.59},{"b":"m","i":56,"p":170.52},{"b":"m","i":58,"p":170.49},{"b":"m","i":63,"p":170.51},{"b":"m","i":66,"p":170.52},{"b":"m","i":68,"p":170.72},{"b":"m","i":72,"p":170.89},{"b":"m","i":75,"p":171.01},{"b":"m","i":80,"p":171.14},{"b":"m","i":83,"p":171.04},{"b":"m","i":84,"p":170.91},{"b":"m","i":88,"p":170.79},{"b":"m","i":90,"p":170.75},{"b":"m","i":92,"p":170.79},{"b":"m","i":96,"p":170.72},{"b":"m","i":100,"p":170.70},{"b":"m","i":103,"p":170.65},{"b":"m","i":107,"p":170.43},{"b":"m","i":110,"p":170.23},{"b":"m","i":114,"p":170.25},{"b":"m","i":118,"p":170.31},{"b":"m","i":123,"p":170.48},{"b":"m","i":127,"p":170.35},{"b":"m","i":131,"p":170.20},{"b":"m","i":134,"p":170.04},{"b":"m","i":138,"p":170.04},{"b":"m","i":142,"p":170.13},{"b":"m","i":145,"p":170.16},{"b":"m","i":149,"p":170.26},{"b":"m","i":152,"p":170.31},{"b":"m","i":155,"p":170.40},{"b":"m","i":158,"p":170.50},{"b":"m","i":162,"p":170.65},{"b":"m","i":164,"p":170.79},{"b":"m","i":168,"p":170.92},{"b":"m","i":170,"p":170.98},{"b":"m","i":173,"p":170.98},{"b":"m","i":177,"p":171.01},{"b":"m","i":179,"p":171.04},{"b":"m","i":181,"p":171.03},{"b":"m","i":183,"p":170.89},{"b":"m","i":185,"p":170.75},{"b":"m","i":188,"p":170.65},{"b":"m","i":190,"p":170.50},{"b":"m","i":193,"p":170.36},{"b":"m","i":195,"p":170.13},{"b":"m","i":198,"p":169.96},{"b":"m","i":200,"p":169.91},{"b":"m","i":203,"p":169.81},{"b":"m","i":205,"p":169.68},{"b":"m","i":208,"p":169.38},{"b":"m","i":211,"p":169.03},{"b":"m","i":214,"p":168.64},{"b":"m","i":217,"p":168.20},{"b":"m","i":219,"p":167.95},{"b":"m","i":222,"p":167.87},{"b":"m","i":224,"p":167.82},{"b":"m","i":226,"p":167.86},{"b":"m","i":228,"p":167.89},{"b":"m","i":231,"p":167.96},{"b":"m","i":234,"p":168.08},{"b":"m","i":238,"p":168.25},{"b":"m","i":242,"p":168.28},{"b":"m","i":243,"p":168.44},{"b":"m","i":245,"p":168.67},{"b":"m","i":248,"p":169.03},{"b":"m","i":250,"p":169.28},{"b":"m","i":253,"p":169.47},{"b":"m","i":255,"p":169.48},{"b":"m","i":258,"p":169.53},{"b":"m","i":259,"p":169.50},{"b":"m","i":262,"p":169.28},{"b":"m","i":264,"p":169.03},{"b":"m","i":266,"p":168.86},{"b":"m","i":268,"p":168.64},{"b":"m","i":269,"p":168.44},{"b":"m","i":271,"p":168.25},{"b":"m","i":273,"p":168.08},{"b":"m","i":275,"p":167.94},{"b":"m","i":278,"p":167.69},{"b":"m","i":280,"p":167.59},{"b":"m","i":283,"p":167.57},{"b":"m","i":285,"p":167.61},{"b":"m","i":288,"p":167.61},{"b":"m","i":291,"p":167.61},{"b":"m","i":293,"p":167.57},{"b":"m","i":296,"p":167.50},{"b":"m","i":298,"p":167.43},{"b":"m","i":303,"p":167.43},{"b":"m","i":305,"p":167.40},{"b":"m","i":307,"p":167.42},{"b":"m","i":308,"p":167.48},{"b":"m","i":310,"p":167.57},{"b":"m","i":312,"p":167.69},{"b":"m","i":313,"p":167.74},{"b":"m","i":316,"p":167.76},{"b":"m","i":318,"p":167.81},{"b":"m","i":321,"p":167.84},{"b":"m","i":323,"p":167.82},{"b":"m","i":326,"p":167.79},{"b":"m","i":328,"p":167.89},{"b":"m","i":331,"p":167.91},{"b":"m","i":335,"p":167.89},{"b":"m","i":337,"p":167.99},{"b":"m","i":338,"p":168.11},{"b":"m","i":341,"p":168.38},{"b":"m","i":343,"p":168.57},{"b":"m","i":344,"p":168.74},{"b":"m","i":346,"p":168.84},{"b":"m","i":348,"p":168.99},{"b":"m","i":349,"p":169.16},{"b":"m","i":351,"p":169.35},{"b":"m","i":353,"p":169.52},{"b":"m","i":356,"p":169.62},{"b":"m","i":358,"p":169.67},{"b":"m","i":362,"p":169.71},{"b":"m","i":365,"p":169.74},{"b":"m","i":368,"p":169.81},{"b":"m","i":369,"p":169.81},{"b":"m","i":371,"p":169.76},
{"b":"l","i":0,"p":167.92},{"b":"l","i":1,"p":168.60},{"b":"l","i":3,"p":169.09},{"b":"l","i":8,"p":169.09},{"b":"l","i":9,"p":169.11},{"b":"l","i":11,"p":168.84},{"b":"l","i":13,"p":168.72},{"b":"l","i":15,"p":168.84},{"b":"l","i":18,"p":168.93},{"b":"l","i":20,"p":169.16},{"b":"l","i":23,"p":169.45},{"b":"l","i":24,"p":169.60},{"b":"l","i":27,"p":169.58},{"b":"l","i":30,"p":169.71},{"b":"l","i":33,"p":169.58},{"b":"l","i":34,"p":169.57},{"b":"l","i":36,"p":169.77},{"b":"l","i":38,"p":169.94},{"b":"l","i":40,"p":169.96},{"b":"l","i":45,"p":170.18},{"b":"l","i":48,"p":170.07},{"b":"l","i":52,"p":170.04},{"b":"l","i":55,"p":170.01},{"b":"l","i":58,"p":170.07},{"b":"l","i":62,"p":170.01},{"b":"l","i":65,"p":169.97},{"b":"l","i":68,"p":169.87},{"b":"l","i":70,"p":169.89},{"b":"l","i":72,"p":170.04},{"b":"l","i":73,"p":170.13},{"b":"l","i":77,"p":170.15},{"b":"l","i":79,"p":170.33},{"b":"l","i":81,"p":170.75},{"b":"l","i":82,"p":170.46},{"b":"l","i":83,"p":170.13},{"b":"l","i":86,"p":169.87},{"b":"l","i":88,"p":169.84},{"b":"l","i":92,"p":169.84},{"b":"l","i":95,"p":169.82},{"b":"l","i":97,"p":169.84},{"b":"l","i":99,"p":169.91},{"b":"l","i":101,"p":169.99},{"b":"l","i":103,"p":169.97},{"b":"l","i":106,"p":169.69},{"b":"l","i":110,"p":169.42},{"b":"l","i":113,"p":169.38},{"b":"l","i":116,"p":169.38},{"b":"l","i":118,"p":169.48},{"b":"l","i":121,"p":169.74},{"b":"l","i":123,"p":170.01},{"b":"l","i":127,"p":169.74},{"b":"l","i":131,"p":169.52},{"b":"l","i":133,"p":169.42},{"b":"l","i":135,"p":169.43},{"b":"l","i":139,"p":169.45},{"b":"l","i":142,"p":169.48},{"b":"l","i":144,"p":169.58},{"b":"l","i":147,"p":169.81},{"b":"l","i":149,"p":169.97},{"b":"l","i":151,"p":169.99},{"b":"l","i":153,"p":169.97},{"b":"l","i":155,"p":169.87},{"b":"l","i":158,"p":169.72},{"b":"l","i":160,"p":169.81},{"b":"l","i":163,"p":170.01},{"b":"l","i":165,"p":170.23},{"b":"l","i":167,"p":170.46},{"b":"l","i":170,"p":170.62},{"b":"l","i":173,"p":170.60},{"b":"l","i":177,"p":170.60},{"b":"l","i":179,"p":170.59},{"b":"l","i":181,"p":170.55},{"b":"l","i":185,"p":169.84},{"b":"l","i":190,"p":169.38},{"b":"l","i":193,"p":169.25},{"b":"l","i":197,"p":169.25},{"b":"l","i":200,"p":169.22},{"b":"l","i":202,"p":169.29},{"b":"l","i":203,"p":169.16},{"b":"l","i":205,"p":168.82},{"b":"l","i":207,"p":168.01},{"b":"l","i":209,"p":167.86},{"b":"l","i":211,"p":167.69},{"b":"l","i":212,"p":167.37},{"b":"l","i":214,"p":167.11},{"b":"l","i":217,"p":166.81},{"b":"l","i":218,"p":166.81},{"b":"l","i":219,"p":166.91},{"b":"l","i":222,"p":166.94},{"b":"l","i":224,"p":167.01},{"b":"l","i":226,"p":167.04},{"b":"l","i":228,"p":167.08},{"b":"l","i":230,"p":167.20},{"b":"l","i":232,"p":167.37},{"b":"l","i":233,"p":167.59},{"b":"l","i":235,"p":167.57},{"b":"l","i":238,"p":167.53},{"b":"l","i":240,"p":167.50},{"b":"l","i":242,"p":167.40},{"b":"l","i":246,"p":167.23},{"b":"l","i":248,"p":167.30},{"b":"l","i":250,"p":167.66},{"b":"l","i":253,"p":167.79},{"b":"l","i":255,"p":167.82},{"b":"l","i":257,"p":167.89},{"b":"l","i":258,"p":168.08},{"b":"l","i":260,"p":167.89},{"b":"l","i":262,"p":167.69},{"b":"l","i":264,"p":167.53},{"b":"l","i":266,"p":167.48},{"b":"l","i":267,"p":167.53},{"b":"l","i":268,"p":167.66},{"b":"l","i":270,"p":167.59},{"b":"l","i":272,"p":167.53},{"b":"l","i":273,"p":167.14},{"b":"l","i":275,"p":166.88},{"b":"l","i":277,"p":166.72},{"b":"l","i":278,"p":166.65},{"b":"l","i":280,"p":166.72},{"b":"l","i":283,"p":166.84},{"b":"l","i":286,"p":166.86},{"b":"l","i":288,"p":166.84},{"b":"l","i":290,"p":166.94},{"b":"l","i":291,"p":167.11},{"b":"l","i":292,"p":167.08},{"b":"l","i":293,"p":166.94},{"b":"l","i":295,"p":166.81},{"b":"l","i":297,"p":166.70},{"b":"l","i":299,"p":166.65},{"b":"l","i":303,"p":166.67},{"b":"l","i":307,"p":166.67},{"b":"l","i":308,"p":166.74},{"b":"l","i":310,"p":166.88},{"b":"l","i":312,"p":167.14},{"b":"l","i":313,"p":167.35},{"b":"l","i":317,"p":167.33},{"b":"l","i":318,"p":167.37},{"b":"l","i":321,"p":167.40},{"b":"l","i":325,"p":167.33},{"b":"l","i":328,"p":167.30},{"b":"l","i":333,"p":167.28},{"b":"l","i":335,"p":167.20},{"b":"l","i":337,"p":167.08},{"b":"l","i":338,"p":167.14},{"b":"l","i":340,"p":167.24},{"b":"l","i":342,"p":167.32},{"b":"l","i":344,"p":167.35},{"b":"l","i":346,"p":167.53},{"b":"l","i":348,"p":168.01},{"b":"l","i":349,"p":168.41},{"b":"l","i":350,"p":168.84},{"b":"l","i":352,"p":168.99},{"b":"l","i":353,"p":169.06},{"b":"l","i":355,"p":169.19},{"b":"l","i":358,"p":169.28},{"b":"l","i":361,"p":169.38},{"b":"l","i":363,"p":169.45},{"b":"l","i":366,"p":169.48},{"b":"l","i":369,"p":169.53},{"b":"l","i":371,"p":169.55}
],
"zz":[
{"i":0,"p":169.94},{"i":5,"p":168.88},{"i":11,"p":171.39},{"i":13,"p":171.13},{"i":15,"p":171.47},{"i":20,"p":169.75},{"i":33,"p":171.57},{"i":52,"p":169.74},{"i":71,"p":171.79},{"i":86,"p":169.62},{"i":93,"p":171.53},{"i":107,"p":169.19},{"i":157,"p":171.68},{"i":205,"p":167.73},{"i":208,"p":168.79},{"i":216,"p":167.08},{"i":238,"p":169.00},{"i":242,"p":167.78},{"i":253,"p":170.79},{"i":269,"p":167.44},{"i":271,"p":167.96},{"i":273,"p":166.59},{"i":286,"p":168.05},{"i":296,"p":166.77},{"i":307,"p":168.46},{"i":322,"p":167.24},{"i":340,"p":169.63},{"i":341,"p":168.75},{"i":344,"p":169.88},{"i":348,"p":169.15},{"i":349,"p":170.04},{"i":352,"p":169.30},{"i":353,"p":170.71}
]
},
"layer":[
{"data":{"name":"bands"},"mark":{"type":"line","color":"#2e8b57","strokeWidth":1.6,"interpolate":"monotone"},
 "encoding":{
  "x":{"field":"i","type":"quantitative","scale":{"domain":[-0.125,465.375],"nice":false,"zero":false},"axis":null},
  "y":{"field":"p","type":"quantitative","scale":{"domain":[166.452,172.087],"nice":false,"zero":false},
       "axis":{"orient":"right","title":null,"values":[171.955,171.57,171.19,170.805,170.42,170.035,169.65,169.265,168.88,168.495,168.11,167.725,167.345,166.96,166.575],"format":".3f","labelFont":"DejaVu Sans","labelFontSize":9,"labelColor":"#000000","tickSize":3,"tickColor":"#000000","domainColor":"#000000","domainWidth":1,"labelPadding":2,"grid":false,"labelOverlap":false}},
  "detail":{"field":"b","type":"nominal"}}},
{"data":{"name":"one"},"mark":{"type":"rule","color":"#c0c0c0","strokeWidth":1},"encoding":{"y":{"datum":169.753,"type":"quantitative"}}},
{"data":{"name":"bars"},"mark":{"type":"rule","color":"#000000","strokeWidth":1},
 "encoding":{"x":{"field":"i","type":"quantitative","axis":null},"y":{"field":"h","type":"quantitative"},"y2":{"field":"l"}}},
{"data":{"name":"bars"},"mark":{"type":"bar","size":2,"stroke":"#000000","strokeWidth":1},
 "encoding":{"x":{"field":"i","type":"quantitative","axis":null},"y":{"field":"o","type":"quantitative"},"y2":{"field":"c"},
  "fill":{"condition":{"test":"datum.c >= datum.o","value":"#ffffff"},"value":"#000000"}}},
{"data":{"name":"zz"},"mark":{"type":"line","color":"#ff0000","strokeWidth":1.5},
 "encoding":{"x":{"field":"i","type":"quantitative","axis":null},"y":{"field":"p","type":"quantitative"}}},
{"data":{"name":"one"},"mark":{"type":"rule","color":"#a0a0a0","strokeWidth":4},
 "encoding":{"x":{"datum":-0.125,"type":"quantitative","axis":null},"x2":{"datum":476.25},"y":{"datum":172.087,"type":"quantitative"}}},
{"data":{"name":"one"},"mark":{"type":"point","shape":"triangle-down","filled":true,"color":"#a0a0a0","size":40,"opacity":1},
 "encoding":{"x":{"datum":371.125,"type":"quantitative","axis":null},"y":{"datum":172.06,"type":"quantitative"}}},
{"data":{"name":"one"},"mark":{"type":"rect","color":"#000000"},
 "encoding":{"x":{"datum":465.625,"type":"quantitative","axis":null},"x2":{"datum":476.625},"y":{"datum":169.812,"type":"quantitative"},"y2":{"datum":169.694}}},
{"data":{"name":"one"},"mark":{"type":"text","color":"#ffffff","font":"DejaVu Sans","fontSize":9,"align":"center","baseline":"middle"},
 "encoding":{"x":{"datum":471.125,"type":"quantitative","axis":null},"y":{"datum":169.753,"type":"quantitative"},"text":{"value":"169.753"}}},
{"data":{"name":"one"},"mark":{"type":"rect","color":"#000000","cornerRadius":3},
 "encoding":{"x":{"datum":450.125,"type":"quantitative","axis":null},"x2":{"datum":464.125},"y":{"datum":167.751,"type":"quantitative"},"y2":{"datum":167.624}}},
{"data":{"name":"one"},"mark":{"type":"text","color":"#e8e8e8","font":"DejaVu Sans","fontSize":10.5,"align":"center","baseline":"middle"},
 "encoding":{"x":{"datum":457.125,"type":"quantitative","axis":null},"y":{"datum":167.688,"type":"quantitative"},"text":{"value":"BB ON"}}},
{"data":{"name":"one"},"mark":{"type":"point","shape":"triangle-down","filled":true,"color":"#000000","size":18,"opacity":1},
 "encoding":{"x":{"datum":0.925,"type":"quantitative","axis":null},"y":{"datum":171.994,"type":"quantitative"}}},
{"data":{"name":"one"},"mark":{"type":"text","color":"#000000","font":"DejaVu Sans","fontSize":9,"align":"left","baseline":"alphabetic"},
 "encoding":{"x":{"datum":3.05,"type":"quantitative","axis":null},"y":{"datum":171.963,"type":"quantitative"},"text":{"value":"CHFJPY,H4  169.710 169.754 169.665 169.753"}}}
]
}
